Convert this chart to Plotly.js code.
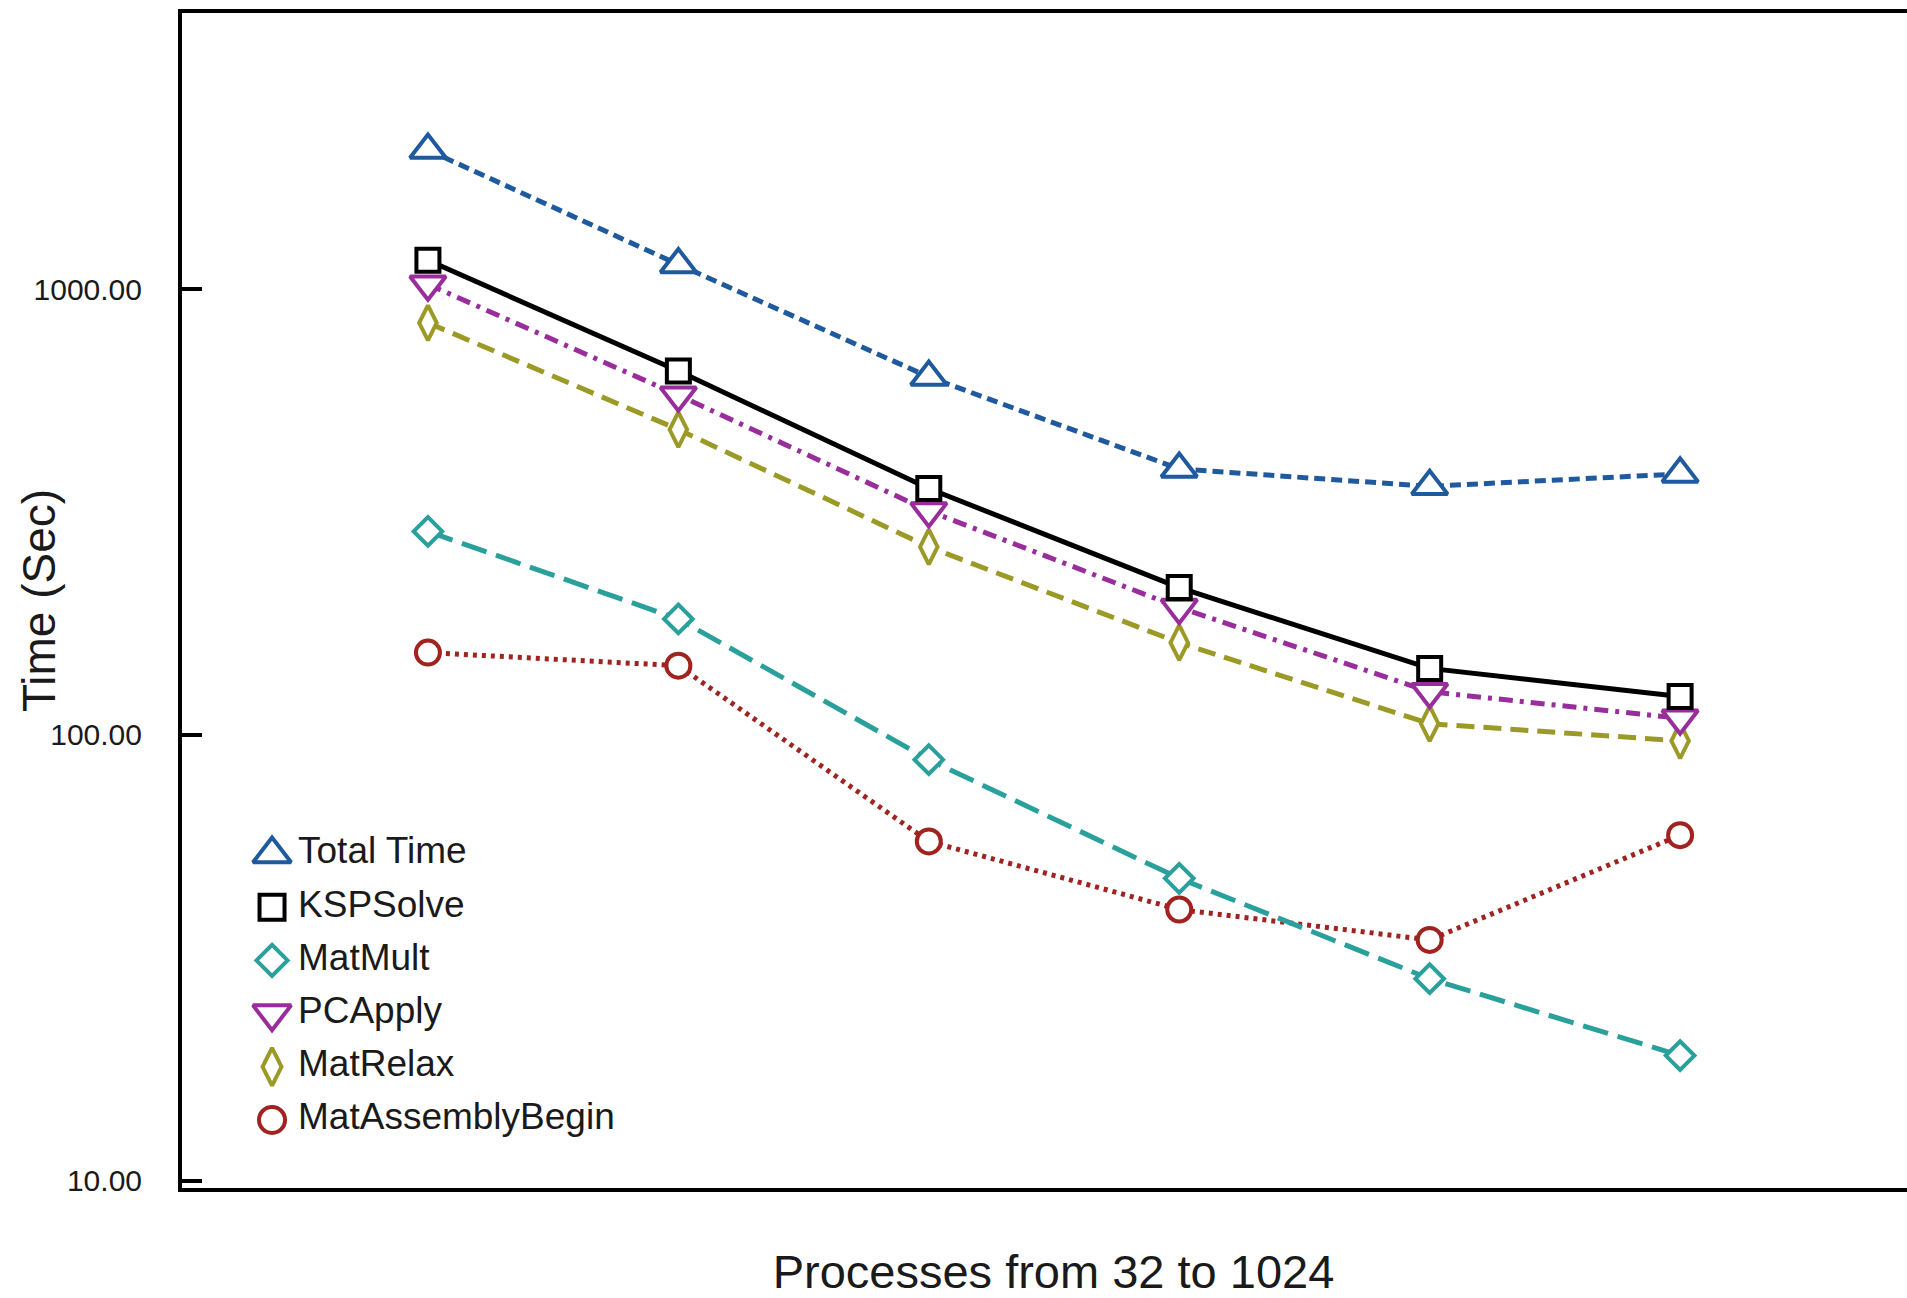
<!DOCTYPE html>
<html>
<head>
<meta charset="utf-8">
<script src="https://cdn.plot.ly/plotly-3.0.1.min.js"></script>
<style>html,body{margin:0;padding:0;background:#fff;}#chart{width:1907px;height:1298px;}</style>
</head>
<body>
<div id="chart"></div>
<script>
// ---- data ----
const processes = ['32', '64', '128', '256', '512', '1024'];
const seriesNames = ['Total Time', 'KSPSolve', 'MatMult', 'PCApply', 'MatRelax', 'MatAssemblyBegin'];
const totalTime = [2050, 1135, 635, 395, 361, 385];
const kspSolve = [1160, 655, 357, 214, 141, 122];
const matMult = [286, 182, 88, 47.7, 28.4, 19.1];
const pcApply = [1025, 578, 318, 193, 125, 109];
const matRelax = [840, 484, 264, 161, 106, 97];
const matAssemblyBegin = [153, 143, 57.7, 40.6, 34.7, 59.6];
const yTickVals = [10, 100, 1000];
const xTitle = 'Processes from 32 to 1024';
const yTitle = 'Time (Sec)';

// ---- styles ----
const styles = {
  'Total Time':       {v: totalTime,        color: '#1f5a9e', dash: '11px,6px',           symbol: 'triangle-up',   size: 31},
  'KSPSolve':         {v: kspSolve,         color: '#000000', dash: 'solid',              symbol: 'square',        size: 23},
  'MatMult':          {v: matMult,          color: '#2aa09c', dash: '26px,10px',          symbol: 'diamond',       size: 22},
  'PCApply':          {v: pcApply,          color: '#992d9c', dash: '14px,7px,4px,7px',   symbol: 'triangle-down', size: 31},
  'MatRelax':         {v: matRelax,         color: '#9c9a27', dash: '18px,9px',           symbol: 'diamond-tall',  size: 25},
  'MatAssemblyBegin': {v: matAssemblyBegin, color: '#a0231f', dash: '4px,5px',            symbol: 'circle',        size: 24}
};
const drawOrder = ['MatAssemblyBegin', 'MatMult', 'MatRelax', 'PCApply', 'KSPSolve', 'Total Time'];

const font = 'Liberation Sans, Arial, Helvetica, sans-serif';
const textColor = '#1a1a1a';

const traces = drawOrder.map(name => {
  const s = styles[name];
  return {
    type: 'scatter', mode: 'lines+markers', name: name,
    x: processes, y: s.v,
    line: {color: s.color, width: 5, dash: s.dash},
    marker: {symbol: s.symbol, size: s.size, color: '#ffffff', opacity: 1,
             line: {color: s.color, width: 4}},
    showlegend: false, hoverinfo: 'x+y+name', cliponaxis: false
  };
});

// legend drawn as a small marker column on its own axes
traces.push({
  type: 'scatter', mode: 'markers', xaxis: 'x2', yaxis: 'y2',
  x: seriesNames.map(() => 0), y: seriesNames,
  marker: {
    symbol: seriesNames.map(n => styles[n].symbol),
    size: seriesNames.map(n => styles[n].size + 2),
    color: '#ffffff', opacity: 1,
    line: {color: seriesNames.map(n => styles[n].color), width: 4}
  },
  showlegend: false, hoverinfo: 'skip', cliponaxis: false
});
traces.push({
  type: 'scatter', mode: 'text', xaxis: 'x2', yaxis: 'y2',
  x: seriesNames.map(() => 1.3), y: seriesNames,
  text: seriesNames, textposition: 'middle right',
  textfont: {family: font, size: 37, color: textColor},
  showlegend: false, hoverinfo: 'skip', cliponaxis: false
});

const layout = {
  width: 1907, height: 1298,
  margin: {l: 182, r: 0, t: 13, b: 110},
  paper_bgcolor: '#ffffff', plot_bgcolor: '#ffffff',
  font: {family: font, color: textColor},
  showlegend: false,
  xaxis: {
    type: 'category', range: [-0.982, 5.906],
    showline: true, linecolor: '#000', linewidth: 4, mirror: true,
    ticks: '', showticklabels: false, showgrid: false, zeroline: false,
    title: {text: xTitle, font: {family: font, size: 47, color: textColor}, standoff: 66},
    automargin: false
  },
  yaxis: {
    type: 'log', range: [0.984, 3.619],
    tickvals: yTickVals, tickformat: '.2f',
    ticks: 'inside', ticklen: 20, tickwidth: 4, tickcolor: '#000',
    ticklabelstandoff: 30,
    tickfont: {family: font, size: 30, color: textColor},
    showline: true, linecolor: '#000', linewidth: 4, mirror: false,
    showgrid: false, zeroline: false,
    title: {text: yTitle, font: {family: font, size: 46, color: textColor}},
    automargin: false
  },
  xaxis2: {domain: [0.0406, 0.3304], range: [-1, 24], visible: false, anchor: 'y2', fixedrange: true},
  yaxis2: {domain: [0.0353, 0.3068], type: 'category', categoryarray: seriesNames, categoryorder: 'array',
           range: [5.5, -0.5], visible: false, anchor: 'x2', fixedrange: true}
};

Plotly.newPlot('chart', traces, layout, {displayModeBar: false, staticPlot: true}).then(gd => {
  // nudge the axis titles to where the reference puts them (appending to any existing transform)
  const nudge = (sel, dx, dy) => {
    const g = gd.querySelector(sel);
    if (!g) return;
    const t = g.getAttribute('transform') || '';
    g.setAttribute('transform', (t + ' translate(' + dx + ',' + dy + ')').trim());
  };
  nudge('.g-ytitle', -22, 0);
  nudge('.g-xtitle', 9, 0);
});
</script>
</body>
</html>
